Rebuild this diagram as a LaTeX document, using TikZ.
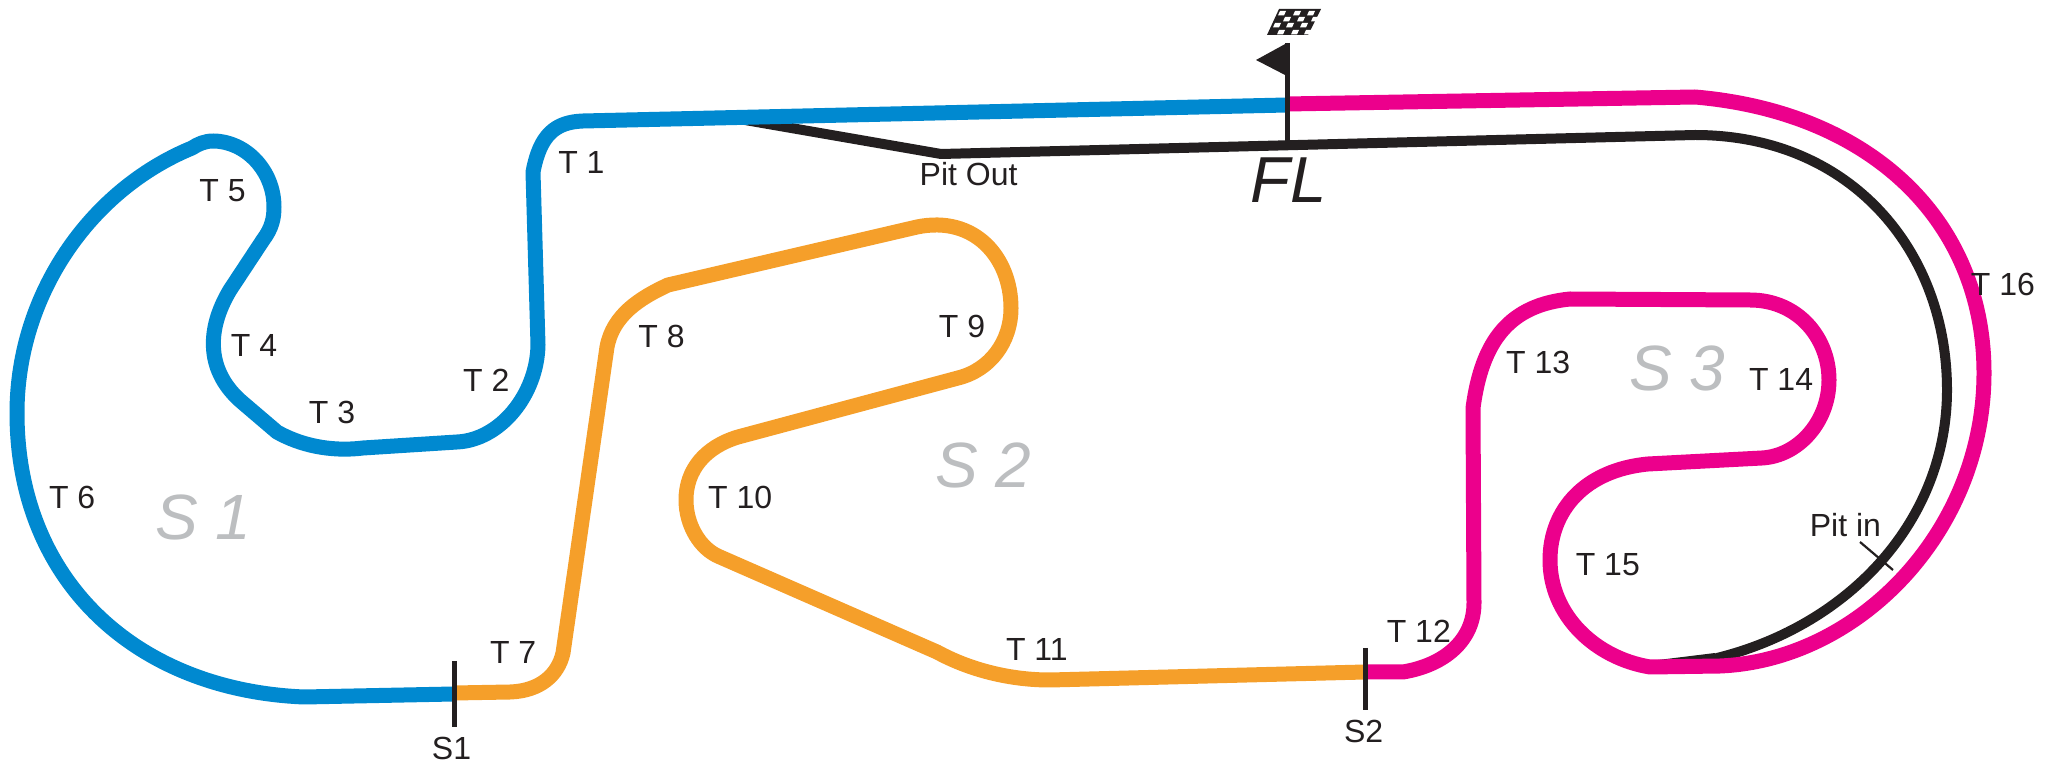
\documentclass[tikz,border=0pt]{standalone}
\usepackage{fontspec}
\setmainfont{Liberation Sans}
\definecolor{tblue}{HTML}{0089D0}
\definecolor{tmag}{HTML}{EC008C}
\definecolor{torange}{HTML}{F59F2A}
\definecolor{tgrey}{HTML}{BCBEC0}
\definecolor{tblack}{HTML}{231F20}
\tikzset{
  track/.style={line width=7.5pt,line join=round},
  pitline/.style={line width=5pt,tblack,line join=round},
  marker/.style={line width=2.5pt,tblack},
  lab/.style={font=\fontsize{16}{18}\selectfont,text=tblack,inner sep=0pt},
  sector/.style={font=\fontsize{32}{36}\selectfont\itshape,text=tgrey,inner sep=0pt},
}
\begin{document}
\begin{tikzpicture}[x=0.65625pt,y=-0.65625pt]
\useasboundingbox (0,0) rectangle (1568,582.86);
\begin{scope}[x=0.5pt,y=-0.5pt]
% pit lane
\draw[pitline] (745,120) -- (941,154) -- (1695,135)
  .. controls (1850,135) and (1947,250) .. (1947,390)
  .. controls (1947,520) and (1850,625) .. (1717,658);
\fill[tblack] (1650,661) -- (1715,653) -- (1730,665) -- cycle;
% sector 3
\draw[track,tmag] (1365,672) -- (1403,672)
  .. controls (1445,665) and (1474,640) .. (1474,603)
  -- (1473,408)
  .. controls (1482,340) and (1510,305) .. (1570,299)
  -- (1750,300)
  .. controls (1798,300) and (1829,338) .. (1829,380)
  .. controls (1829,422) and (1798,456) .. (1762,458)
  -- (1648,464)
  .. controls (1585,470) and (1550,510) .. (1550,560)
  .. controls (1550,615) and (1595,658) .. (1650,667)
  -- (1720,666)
  .. controls (1860,660) and (1984,530) .. (1984,373)
  .. controls (1984,220) and (1870,112) .. (1695,97)
  -- (1287,104);
% sector 2
\draw[track,torange] (454,693) -- (510,692)
  .. controls (540,691) and (558,675) .. (563,653)
  -- (607,347)
  .. controls (613,315) and (640,298) .. (668,285)
  -- (917,227)
  .. controls (975,215) and (1011,258) .. (1011,308)
  .. controls (1011,342) and (990,370) .. (958,378)
  -- (738,437)
  .. controls (705,447) and (686,470) .. (686,500)
  .. controls (686,525) and (700,549) .. (720,557)
  -- (937,652)
  .. controls (970,670) and (1010,680) .. (1050,680)
  -- (1365,672);
% sector 1
\draw[track,tblue] (1287,105) -- (583,121)
  .. controls (555,122) and (540,135) .. (533,172)
  -- (538,345)
  .. controls (537,395) and (500,440) .. (457,442)
  -- (363,448)
  .. controls (330,452) and (300,445) .. (277,432)
  -- (243,403)
  .. controls (206,372) and (206,330) .. (230,290)
  -- (263,240)
  .. controls (272,228) and (274,218) .. (274,207)
  .. controls (274,170) and (245,141) .. (213,141)
  .. controls (205,141) and (198,144) .. (192,148)
  .. controls (90,190) and (17,295) .. (17,413)
  .. controls (17,580) and (135,690) .. (304,697)
  -- (454,694);
% markers
\draw[marker] (454.5,661) -- (454.5,727);
\draw[marker] (1365,648) -- (1365,710);
\draw[line width=1.1pt,tblack] (1860,542) -- (1893,570);
% flag
\draw[marker] (1287.5,43) -- (1287.5,145);
\fill[tblack] (1287,43) -- (1256,60) -- (1287,76) -- cycle;
\fill[tblack] (1279,9) -- (1321,9) -- (1308,35) -- (1267,35) -- cycle;
\foreach \xa/\ya in {1280/11,1295/11,1309/11,
                     1285/17,1299/17,1313/17,
                     1275/23,1288/23,1302/23,
                     1279/30,1293/30,1306/30}{
  \fill[white] (\xa,\ya) -- ++(6,0) -- ++(-2,4.4) -- ++(-6,0) -- cycle;
}
\end{scope}
% labels
\node[lab] (t1) at (443,124) {T 1};
\node[lab] (t2) at (370.5,290) {T 2};
\node[lab] (t3) at (253,314) {T 3};
\node[lab] (t4) at (193.5,263) {T 4};
\node[lab] (t5) at (169.5,145) {T 5};
\node[lab] (t6) at (55,379) {T 6};
\node[lab] (t7) at (391,497) {T 7};
\node[lab] (t8) at (504,256.5) {T 8};
\node[lab] (t9) at (733,249) {T 9};
\node[lab] (t10) at (564,379) {T 10};
\node[lab] (t11) at (790,495) {T 11};
\node[lab] (t12) at (1081,481) {T 12};
\node[lab] (t13) at (1172,276) {T 13};
\node[lab] (t14) at (1357,289) {T 14};
\node[lab] (t15) at (1225,430) {T 15};
\node[lab] (t16) at (1526,217) {T 16};
\node[lab] (pout) at (738,133) {Pit Out};
\node[lab] (pin) at (1406,400) {Pit in};
\node[lab] (s1) at (344,570) {S1};
\node[lab] (s2) at (1039,557) {S2};
\node[lab,font=\fontsize{32.5}{36}\selectfont\itshape] (fl) at (982,137.5) {FL};
\node[sector] (ss1) at (155,394) {S 1};
\node[sector] (ss2) at (749,355) {S 2};
\node[sector] (ss3) at (1278,281) {S 3};
\end{tikzpicture}
\end{document}
